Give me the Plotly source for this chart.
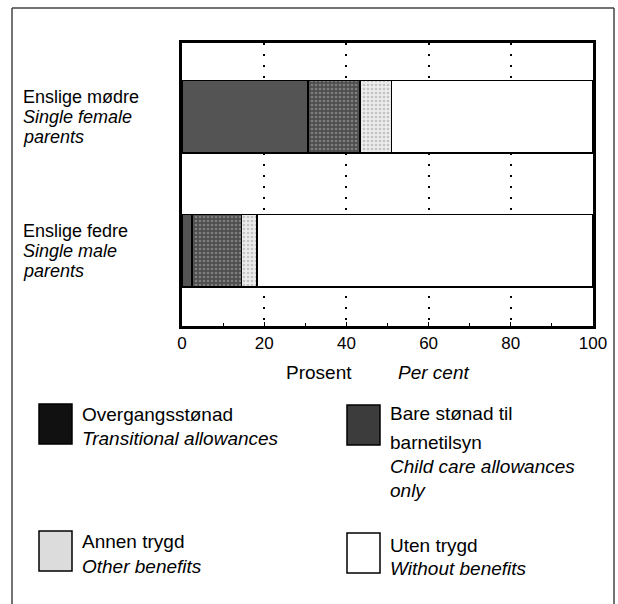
import plotly.graph_objects as go

# data, bottom to top
groups = ["Enslige fedre", "Enslige mødre"]
group_labels = [["Enslige fedre", "<i>Single male</i>", "<i>parents</i>"],
                ["Enslige mødre", "<i>Single female</i>", "<i>parents</i>"]]
overgang    = [2.4, 30.7]
barnetilsyn = [12.1, 12.6]
annen       = [3.8, 7.7]
uten        = [81.7, 49.0]
xticks      = [0, 20, 40, 60, 80, 100]

FONT = "Liberation Sans, Arial, Helvetica, sans-serif"
W, H = 618, 604
L, R, T, B = 182, 25, 43, 278

def px(x) :
    return (x - L) / (W - L - R)

def py(y) :
    return (H - B - y) / (H - T - B)

fig = go.Figure()

series = [
    ('Overgangsstønad', overgang, dict(color='#545454')),
    ('Bare stønad til barnetilsyn', barnetilsyn,
     dict(color='#5a5a5a', pattern=dict(shape='.', bgcolor='#4e4e4e', fgcolor='#b0b0b0', size=4, solidity=0.35))),
    ('Annen trygd', annen,
     dict(color='#e6e6e6', pattern=dict(shape='.', bgcolor='#ececec', fgcolor='#9a9a9a', size=4, solidity=0.35))),
    ('Uten trygd', uten, dict(color='white')),
]
for name, vals, marker in series :
    marker['line'] = dict(color='black', width=1.5)
    fig.add_trace(go.Bar(x=vals, y=[0, 1], orientation='h', name=name,
                         marker=marker, width=0.54, showlegend=False))

fig.update_layout(barmode='stack', width=W, height=H,
                  margin=dict(l=L, r=R, t=T, b=B),
                  paper_bgcolor='white', plot_bgcolor='white',
                  font=dict(family=FONT, color='black'))

fig.update_xaxes(range=[0, 100], tickvals=xticks, ticks='inside', ticklen=4,
                 tickcolor='black', tickfont=dict(size=17),
                 showgrid=True, gridcolor='black', gridwidth=1.5, griddash='2px,9px',
                 showline=True, linecolor='black', linewidth=3, mirror=True,
                 zeroline=False, minor=dict(dtick=10, ticks='inside', ticklen=3, tickcolor='black'))
fig.update_yaxes(range=[-0.56, 1.55], showticklabels=False, showgrid=False,
                 zeroline=False, showline=True, linecolor='black', linewidth=3, mirror=True)

# group labels, left aligned, one annotation per line
for i, lines in enumerate(group_labels) :
    for j, txt in enumerate(lines) :
        fig.add_annotation(text=txt, xref='paper', yref='y', x=px(21), y=i,
                           yshift=20 - 20 * j, xanchor='left', yanchor='middle',
                           showarrow=False, font=dict(size=18))

# axis title
fig.add_annotation(text='Prosent', xref='paper', yref='paper', x=px(319), y=py(372),
                   yanchor='middle', showarrow=False, font=dict(size=19))
fig.add_annotation(text='<i>Per cent</i>', xref='paper', yref='paper', x=px(433), y=py(372),
                   yanchor='middle', showarrow=False, font=dict(size=19))

# legend, drawn by hand
legend = [
    (39, 404, '#111111', [('Overgangsstønad', 414), ('<i>Transitional allowances</i>', 438)]),
    (347, 405, '#3c3c3c', [('Bare stønad til', 413), ('barnetilsyn', 442),
                           ('<i>Child care allowances</i>', 466), ('<i>only</i>', 490)]),
    (39, 531, '#dcdcdc', [('Annen trygd', 541), ('<i>Other benefits</i>', 566)]),
    (347, 533, 'white', [('Uten trygd', 545), ('<i>Without benefits</i>', 568)]),
]
for x0, y0, col, lines in legend :
    fig.add_shape(type='rect', xref='paper', yref='paper',
                  x0=px(x0), x1=px(x0 + 33), y0=py(y0), y1=py(y0 + 40),
                  fillcolor=col, line=dict(color='black', width=1.5))
    for txt, yy in lines :
        fig.add_annotation(text=txt, xref='paper', yref='paper', x=px(x0 + 41), y=py(yy),
                           xanchor='left', yanchor='middle', showarrow=False,
                           font=dict(size=19))

# outer frame
for xa, ya, xb, yb in [(12, 8, 12, 604), (12, 8, 614, 8), (614, 8, 614, 604)] :
    fig.add_shape(type='line', xref='paper', yref='paper',
                  x0=px(xa), y0=py(ya), x1=px(xb), y1=py(yb),
                  line=dict(color='#444444', width=1.5))

# drop the browser's default body margin so the figure sits at the page corner
fig.write_html("out.html", config={'displayModeBar': False},
               post_script="document.body.style.margin='0';")
